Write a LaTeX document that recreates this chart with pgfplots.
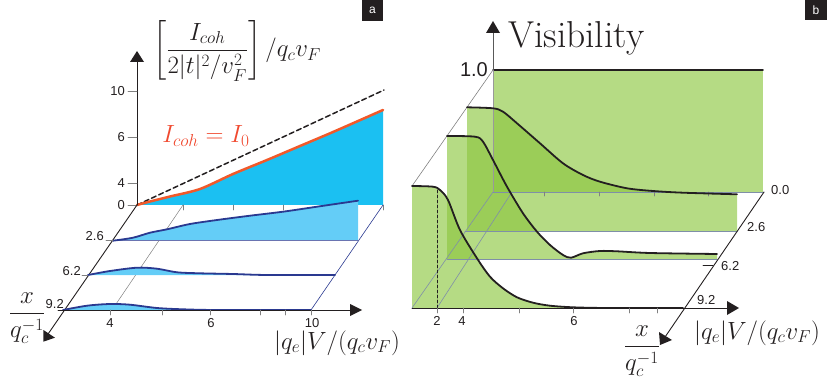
\documentclass[border=0pt]{standalone}
\usepackage{fontspec}
\setmainfont{Liberation Sans}
\newfontfamily\lmfont{Latin Modern Roman}
\usepackage{amsmath}
\usepackage{pgfplots}
\pgfplotsset{compat=1.18}
\definecolor{cyanfill}{HTML}{1BC0F2}
\definecolor{lightcyan}{HTML}{64CDF7}
\definecolor{navyline}{HTML}{2A3990}
\definecolor{orangeline}{HTML}{F1592A}
\definecolor{redlabel}{HTML}{F0492F}
\definecolor{greenfill}{HTML}{8CC63F}
\definecolor{inkblack}{HTML}{231F20}
\definecolor{floorline}{HTML}{7F8FA8}
\newcommand{\tk}{\fontsize{13}{15}\selectfont}
\newcommand{\mth}{\fontsize{25}{30}\selectfont}
\begin{document}
\begin{tikzpicture}
\begin{axis}[
  scale only axis, width=830pt, height=390pt,
  xmin=0, xmax=830, ymin=0, ymax=390, y dir=reverse,
  hide axis, clip=false,
  every axis plot/.append style={line cap=round},
  tri/.style={fill=inkblack, draw=none, forget plot},
  ink/.style={draw=inkblack, line width=0.9pt},
  tick/.style={draw=gray, line width=0.7pt},
  fl/.style={draw=floorline, line width=0.6pt},
  greenarea/.style={fill=greenfill, fill opacity=0.64, draw=none},
  curveb/.style={draw=inkblack, line width=1.8pt, smooth, tension=0.5},
  curvea/.style={draw=navyline, line width=1.8pt, smooth, tension=0.5},
]
% keeps the page at the full 830x390
\addplot[draw=none, forget plot] coordinates {(0,0)(830,390)};
% panel a, back face
\addplot[fill=cyanfill, draw=none] coordinates {(137,205)(150,201.5)(170,196.5)(200,189)(233,174)(267,160)(300,146)(333,132)(383,110)(383,205)};
\addplot[draw=inkblack, line width=1.5pt, dash pattern=on 5pt off 3pt] coordinates {(137,205)(384,90)};
\addplot[draw=orangeline, line width=2.5pt, smooth] coordinates {(137,205)(150,201.5)(170,196.5)(200,189)(233,174)(267,160)(300,146)(333,132)(383,110)};
\addplot[ink] coordinates {(137,205)(137,60)};
\addplot[tri] coordinates {(137,51)(130,62)(144,62)};
\addplot[tick] coordinates {(128,91)(137,91)};
\addplot[tick] coordinates {(128,137)(137,137)};
\addplot[tick] coordinates {(128,183)(137,183)};
\addplot[tick] coordinates {(128,205)(137,205)};
\addplot[tick] coordinates {(183,205)(183,210)};
\addplot[tick] coordinates {(233,205)(233,210)};
\addplot[tick] coordinates {(283,205)(283,210)};
\addplot[tick] coordinates {(333,205)(333,210)};
\addplot[tick] coordinates {(383,205)(383,210)};
% panel a, floor
\addplot[draw=gray, line width=0.5pt] coordinates {(183,205)(112,310)};
\addplot[draw=navyline, line width=0.6pt] coordinates {(383,205)(311,310)};
\addplot[ink] coordinates {(137,205)(46,337)};
\addplot[tri] coordinates {(43.3,341.7)(43.5,330)(55,337.7)};
% panel a, slices
\addplot[fill=lightcyan, draw=none] coordinates {(113,240.7)(133,237.7)(150,232.7)(167,229.3)(190,224)(217,220)(250,215.7)(283,211.7)(317,206.7)(358,200.7)(358,240.7)};
\addplot[draw=navyline!70, line width=0.6pt] coordinates {(113,240.7)(358,240.7)};
\addplot[curvea] coordinates {(113,240.7)(133,237.7)(150,232.7)(167,229.3)(190,224)(217,220)(250,215.7)(283,211.7)(317,206.7)(358,200.7)};
\addplot[fill=lightcyan, draw=none] coordinates {(88,275)(110,271)(137,267.7)(157,268.7)(177,272.3)(200,273.3)(233,274)(267,275)(335,275)};
\addplot[curvea] coordinates {(88,275)(110,271)(137,267.7)(157,268.7)(177,272.3)(200,273.3)(233,274)(267,275)(335,275)};
\addplot[fill=lightcyan, draw=none] coordinates {(63,310)(87,305.7)(110,304)(130,304.7)(157,308)(183,309.3)(217,310)(311,310)};
\addplot[curvea] coordinates {(63,310)(87,305.7)(110,304)(130,304.7)(157,308)(183,309.3)(217,310)(311,310)};
\addplot[ink] coordinates {(58,310)(352,310)};
\addplot[tri] coordinates {(362,310)(350,304)(350,316)};
\addplot[tick] coordinates {(106,240.7)(113,240.7)};
\addplot[tick] coordinates {(82,275)(88,275)};
\addplot[tick] coordinates {(110,310)(110,315)};
\addplot[tick] coordinates {(162,310)(162,315)};
\addplot[tick] coordinates {(210,310)(210,315)};
\addplot[tick] coordinates {(260,310)(260,315)};
\addplot[tick] coordinates {(285,310)(285,315)};
\addplot[tick] coordinates {(311,310)(311,315)};
% panel b, slices from back to front
\addplot[greenarea] coordinates {(493,70)(763,70)(763,192)(493,192)};
\addplot[draw=inkblack, line width=1.5pt] coordinates {(493,70)(763,70)};
\addplot[greenarea] coordinates {(467,107.3)(493,108.3)(503,111.7)(517,123.3)(540,143.3)(563,163.3)(583,175)(600,181.7)(627,188.3)(653,191)(683,192.7)(737,194.3)(737,231)(467,231)};
\addplot[greenarea] coordinates {(447,136)(475,136.7)(483,141.7)(493,160)(507,186.7)(523,213.3)(537,231.7)(550,245)(563,255)(571,257.7)(583,253.3)(600,251)(617,251.3)(650,253)(717,254)(717,259)(447,259)};
\addplot[greenarea] coordinates {(412,186)(433,186.7)(440,190)(448,200)(460,230)(477,258.3)(490,276.7)(503,288.3)(517,297.3)(533,302.7)(550,305.7)(573,307.3)(607,308)(683,308)(412,308)};
% panel b, floor and axes
\addplot[draw=gray, line width=0.6pt] coordinates {(412,186)(493,70)};
\addplot[draw=gray!80, line width=0.6pt] coordinates {(493,192)(493,70)};
\addplot[draw=gray!70!black, line width=0.8pt] coordinates {(493,70)(493,32)};
\addplot[tri] coordinates {(493,21)(486,33)(500,33)};
\addplot[fl] coordinates {(493,192)(764,192)};
\addplot[fl] coordinates {(465,231)(737,231)};
\addplot[fl] coordinates {(447,259)(717,259)};
\addplot[fl] coordinates {(412,308)(493,192)};
\addplot[fl] coordinates {(437,308)(512,192)};
\addplot[tick] coordinates {(544,192)(544,196)};
\addplot[tick] coordinates {(599,192)(599,196)};
\addplot[tick] coordinates {(654,192)(654,196)};
\addplot[tick] coordinates {(708,192)(708,196)};
\addplot[curveb] coordinates {(467,107.3)(493,108.3)(503,111.7)(517,123.3)(540,143.3)(563,163.3)(583,175)(600,181.7)(627,188.3)(653,191)(683,192.7)(737,194.3)};
\addplot[curveb] coordinates {(447,136)(475,136.7)(483,141.7)(493,160)(507,186.7)(523,213.3)(537,231.7)(550,245)(563,255)(571,257.7)(583,253.3)(600,251)(617,251.3)(650,253)(717,254)};
\addplot[curveb] coordinates {(412,186)(433,186.7)(440,190)(448,200)(460,230)(477,258.3)(490,276.7)(503,288.3)(517,297.3)(533,302.7)(550,305.7)(573,307.3)(607,308)(683,308)};
\addplot[draw=inkblack, line width=0.9pt, dash pattern=on 3pt off 2pt] coordinates {(437,190)(437,308)};
\addplot[ink] coordinates {(412,308)(728,308)};
\addplot[tri] coordinates {(739,308)(727,301)(727,315)};
\addplot[ink] coordinates {(764,192)(663,340)};
\addplot[tri] coordinates {(660,345)(659,332)(672,340)};
\addplot[tick] coordinates {(437,308)(437,313)};
\addplot[tick] coordinates {(463,308)(463,313)};
\addplot[tick] coordinates {(519,308)(519,313)};
\addplot[tick] coordinates {(573,308)(573,313)};
\addplot[tick] coordinates {(629,308)(629,313)};
\addplot[tick] coordinates {(657,308)(657,313)};
\addplot[draw=inkblack, line width=0.7pt] coordinates {(703,265)(713,265)};
% panel a text
\node[anchor=east, inner sep=0pt, text=inkblack] at (axis cs:125,91) {\tk 10};
\node[anchor=east, inner sep=0pt, text=inkblack] at (axis cs:125,137) {\tk 6};
\node[anchor=east, inner sep=0pt, text=inkblack] at (axis cs:125,183) {\tk 4};
\node[anchor=east, inner sep=0pt, text=inkblack] at (axis cs:125,205) {\tk 0};
\node[anchor=east, inner sep=0pt, text=inkblack] at (axis cs:104,236) {\tk 2.6};
\node[anchor=east, inner sep=0pt, text=inkblack] at (axis cs:81,271) {\tk 6.2};
\node[anchor=east, inner sep=0pt, text=inkblack] at (axis cs:64,304) {\tk 9.2};
\node[inner sep=0pt, text=inkblack] at (axis cs:110,323) {\tk 4};
\node[inner sep=0pt, text=inkblack] at (axis cs:211,323) {\tk 6};
\node[inner sep=0pt, text=inkblack] at (axis cs:312,323) {\tk 10};
\node[anchor=west, inner sep=0pt, text=inkblack] at (axis cs:153,51) {\mth $\bigg[\dfrac{I_{coh}}{2|t|^2/v_F^2}\bigg]\,/q_c v_F$};
\node[inner sep=0pt, text=redlabel] at (axis cs:206,136) {\mth $I_{coh}=I_0$};
\node[inner sep=0pt, text=inkblack] at (axis cs:337,343) {\mth $|q_e|V/(q_c v_F)$};
\node[inner sep=0pt, text=inkblack] at (axis cs:27,318) {\fontsize{23}{27}\selectfont $\dfrac{x}{q_c^{-1}}$};
% panel b text
\node[anchor=base west, inner sep=0pt, text=inkblack] at (axis cs:508,48) {\fontsize{37.5}{42}\selectfont\lmfont Visibility};
\node[anchor=east, inner sep=0pt, text=inkblack] at (axis cs:488,70) {\fontsize{20}{22}\selectfont 1.0};
\node[anchor=west, inner sep=0pt, text=inkblack] at (axis cs:771,190) {\tk 0.0};
\node[anchor=west, inner sep=0pt, text=inkblack] at (axis cs:747,227) {\tk 2.6};
\node[anchor=west, inner sep=0pt, text=inkblack] at (axis cs:721,266) {\tk 6.2};
\node[anchor=west, inner sep=0pt, text=inkblack] at (axis cs:697,300) {\tk 9.2};
\node[inner sep=0pt, text=inkblack] at (axis cs:437,321) {\tk 2};
\node[inner sep=0pt, text=inkblack] at (axis cs:462,321) {\tk 4};
\node[inner sep=0pt, text=inkblack] at (axis cs:574,321) {\tk 6};
\node[inner sep=0pt, text=inkblack] at (axis cs:757,333) {\mth $|q_e|V/(q_c v_F)$};
\node[inner sep=0pt, text=inkblack] at (axis cs:642,351) {\fontsize{23}{27}\selectfont $\dfrac{x}{q_c^{-1}}$};
% panel tags
\addplot[fill=inkblack, draw=none] coordinates {(362,0)(383,0)(383,21)(362,21)};
\addplot[fill=inkblack, draw=none] coordinates {(805,0)(827,0)(827,20)(805,20)};
\node[inner sep=0pt, text=white] at (axis cs:372.5,10) {\fontsize{12}{14}\selectfont a};
\node[inner sep=0pt, text=white] at (axis cs:816,10) {\fontsize{12}{14}\selectfont b};
\end{axis}
\end{tikzpicture}
\end{document}
